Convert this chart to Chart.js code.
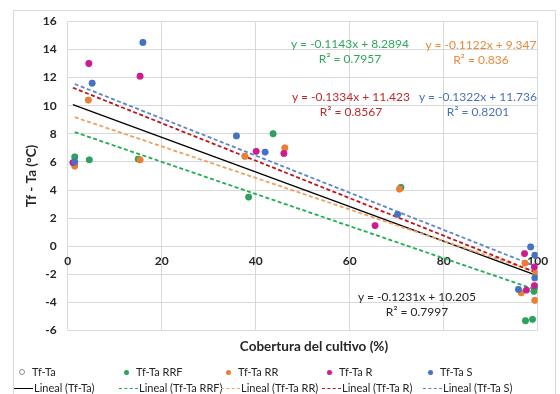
<!DOCTYPE html>
<html><head><meta charset="utf-8">
<script src="https://cdn.jsdelivr.net/npm/chart.js@4.4.1/dist/chart.umd.min.js"></script>
<style>
html,body{margin:0;padding:0;background:#fff;}
#wrap{position:relative;width:560px;height:394px;overflow:hidden;font-family:Lato,'Open Sans',sans-serif;}
#frame{position:absolute;left:13px;top:10px;width:543px;height:400px;border:1px solid #d9d9d9;box-sizing:border-box;}
canvas{position:absolute;left:0;top:0;}
.eq{position:absolute;font-size:12px;text-align:center;white-space:nowrap;line-height:15px;transform:translateX(-50%);}
#xtitle{position:absolute;left:314px;top:346px;font-weight:bold;font-size:13.5px;color:#262626;transform:translate(-50%,-50%);white-space:nowrap;}
.lg{position:absolute;font-size:11px;color:#262626;white-space:nowrap;line-height:12px;}
.mk{display:inline-block;width:5px;height:5px;border-radius:50%;vertical-align:middle;margin-right:7px;position:relative;top:-1px;}
.ln{display:inline-block;width:19px;height:0;vertical-align:middle;margin-right:1px;position:relative;top:-1px;}
</style></head>
<body><div id="wrap"><div id="frame"></div><canvas id="c" width="560" height="394"></canvas><div id="xtitle">Cobertura del cultivo (%)</div></div>
<script>
// ---- data ----
const seriesNames = ['Tf-Ta RRF', 'Tf-Ta RR', 'Tf-Ta R', 'Tf-Ta S'];
const xRRF = [1.5, 4.6, 15.0, 38.5, 43.7, 70.9, 97.4, 98.9, 99.5, 99.2];
const yRRF = [6.35, 6.15, 6.2, 3.5, 8.0, 4.18, -5.3, -5.2, -2.9, -3.2];
const xRR  = [1.5, 4.4, 15.4, 37.7, 46.2, 70.6, 97.3, 99.6, 96.5, 99.4];
const yRR  = [5.7, 10.4, 6.15, 6.4, 7.0, 4.07, -1.2, -1.94, -3.31, -3.85];
const xR   = [1.1, 4.5, 15.4, 40.1, 46.0, 65.4, 97.2, 99.3, 99.3, 97.6];
const yR   = [5.95, 13.0, 12.1, 6.75, 6.6, 1.47, -0.52, -1.47, -2.8, -3.12];
const xS   = [1.5, 5.2, 16.0, 35.9, 42.0, 70.2, 98.5, 99.4, 99.4, 95.9];
const yS   = [6.0, 11.6, 14.5, 7.85, 6.7, 2.27, -0.05, -0.64, -2.25, -3.07];
// trendlines: [Tf-Ta, RRF, RR, R, S]
const trendNames = ['Lineal (Tf-Ta)', 'Lineal (Tf-Ta RRF)', 'Lineal (Tf-Ta RR)', 'Lineal (Tf-Ta R)', 'Lineal (Tf-Ta S)'];
const slopes = [-0.1231, -0.1143, -0.1122, -0.1334, -0.1322];
const intercepts = [10.205, 8.2894, 9.347, 11.423, 11.736];
const r2Values = ['0.7997', '0.7957', '0.836', '0.8567', '0.8201'];
const xTicks = [0, 20, 40, 60, 80, 100];
const yTicks = [-6, -4, -2, 0, 2, 4, 6, 8, 10, 12, 14, 16];

// ---- styles ----
const pointColors = ['#2ca25a', '#ed7d31', '#cf1a92', '#4472c4'];
const lineColors = ['#000000', '#1fae50', '#f0a060', '#c0141c', '#5a86cc'];
const eqColors = ['#262626', '#2fa85c', '#e8893a', '#c0282d', '#4a72b8'];
const eqPos = [[417, 289], [350, 36], [481, 37], [351, 89], [478, 89]];

const xs = [xRRF, xRR, xR, xS], ys = [yRRF, yRR, yR, yS];
const toPts = (a, b) => a.map((v, i) => ({x: v, y: b[i]}));
const allX = [].concat(...xs), allY = [].concat(...ys);
const trendX = [allX, xRRF, xRR, xR, xS];

const datasets = [];
trendX.forEach((tx, i) => {
  const x0 = Math.min(...tx), x1 = Math.max(...tx);
  datasets.push({type: 'line', label: trendNames[i],
    data: [{x: x0, y: slopes[i] * x0 + intercepts[i]}, {x: x1, y: slopes[i] * x1 + intercepts[i]}],
    borderColor: lineColors[i], borderWidth: i === 0 ? 1.3 : 1.8, borderDash: i === 0 ? [] : [4, 2.5],
    pointRadius: 0, fill: false, order: 20 - i});
});
datasets.push({type: 'scatter', label: 'Tf-Ta', data: toPts(allX, allY), pointRadius: 3,
  pointBackgroundColor: '#ffffff', pointBorderColor: '#8c8c8c', pointBorderWidth: 0.5, order: 10});
xs.forEach((a, i) => {
  datasets.push({type: 'scatter', label: seriesNames[i], data: toPts(a, ys[i]), pointRadius: 3.4,
    pointBackgroundColor: pointColors[i], pointBorderColor: pointColors[i], pointBorderWidth: 0, order: 9 - i});
});

const tickFont = {family: 'Lato', weight: 'bold', size: 12};
new Chart(document.getElementById('c'), {
  type: 'scatter',
  data: {datasets},
  options: {
    responsive: false, animation: false, devicePixelRatio: 1,
    layout: {padding: {top: 21.3, right: 22.3, bottom: 63.4, left: 0}},
    plugins: {legend: {display: false}, tooltip: {enabled: false}},
    scales: {
      x: {type: 'linear', position: {y: 0}, min: 0, max: 100,
        afterBuildTicks: s => { s.ticks = xTicks.map(v => ({value: v})); },
        ticks: {padding: 8, font: tickFont, color: '#262626', maxRotation: 0},
        grid: {color: '#d9d9d9', drawTicks: false}, border: {display: false}},
      y: {type: 'linear', position: 'left', min: -6, max: 16,
        afterBuildTicks: s => { s.ticks = yTicks.map(v => ({value: v})); },
        ticks: {padding: 11, font: tickFont, color: '#262626'},
        grid: {color: '#d9d9d9', drawTicks: false}, border: {display: false},
        title: {display: true, text: 'Tf - Ta (°C)', font: {family: 'Lato', weight: 'bold', size: 13.5}, color: '#262626', padding: {top: 24, bottom: 0}},
        afterFit: s => { s.width = 67.7; }}
    }
  }
});

const wrap = document.getElementById('wrap');
// equations
slopes.forEach((m, i) => {
  const d = document.createElement('div');
  d.className = 'eq';
  d.style.left = eqPos[i][0] + 'px'; d.style.top = eqPos[i][1] + 'px'; d.style.color = eqColors[i];
  d.innerHTML = 'y = ' + m + 'x + ' + intercepts[i] + '<br>R² = ' + r2Values[i];
  wrap.appendChild(d);
});
// legend
const colX = [22, 127, 229, 330, 431];
const row1 = ['Tf-Ta'].concat(seriesNames);
row1.forEach((n, i) => {
  const d = document.createElement('div');
  d.className = 'lg'; d.style.left = (colX[i] - 3) + 'px'; d.style.top = '366px';
  const mk = i === 0 ? '<span class="mk" style="border:1px solid #8c8c8c;width:4px;height:4px;background:#fff"></span>'
                     : '<span class="mk" style="background:' + pointColors[i - 1] + '"></span>';
  d.innerHTML = mk + n;
  wrap.appendChild(d);
});
trendNames.forEach((n, i) => {
  const d = document.createElement('div');
  d.className = 'lg'; d.style.left = (colX[i] - 8) + 'px'; d.style.top = '382px';
  const st = i === 0 ? 'border-top:1.3px solid #000' : 'border-top:1.8px dashed ' + lineColors[i];
  d.innerHTML = '<span class="ln" style="' + st + '"></span>' + n;
  wrap.appendChild(d);
});
</script></body></html>
